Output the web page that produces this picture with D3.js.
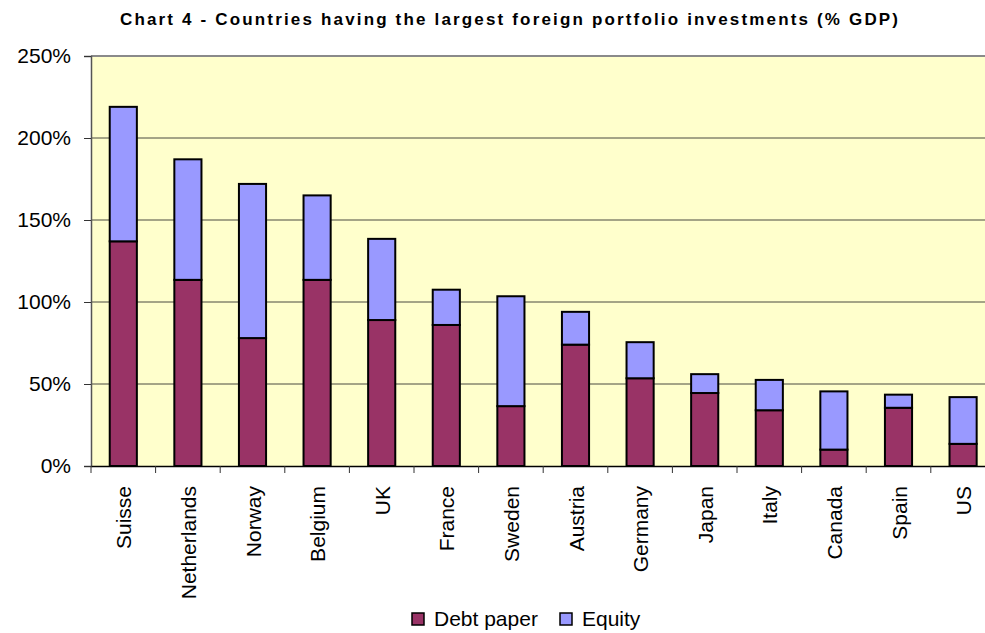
<!DOCTYPE html>
<html><head><meta charset="utf-8">
<script src="https://cdn.jsdelivr.net/npm/d3@7"></script>
<style>html,body{margin:0;padding:0;background:#fff;overflow:hidden}</style>
</head><body>
<svg id="chart" width="985" height="633"></svg>
<script>
const categories = ["Suisse","Netherlands","Norway","Belgium","UK","France","Sweden","Austria","Germany","Japan","Italy","Canada","Spain","US"];
const debtPaper = [1.37,1.135,0.78,1.135,0.89,0.86,0.365,0.74,0.535,0.445,0.34,0.10,0.355,0.135];
const equity    = [0.82,0.735,0.94,0.515,0.495,0.215,0.67,0.20,0.22,0.115,0.185,0.355,0.08,0.285];
const yTicks = [0,0.5,1,1.5,2,2.5];
const seriesNames = ["Debt paper","Equity"];
const colors = ["#993366","#9999FF"];
const title = "Chart 4 - Countries having the largest foreign portfolio investments (% GDP)";

const svg = d3.select("#chart");
const font = "Arial, 'Liberation Sans', sans-serif";
const L = 91, R = 995.4, T = 56, B = 466;

const x = d3.scaleBand().domain(categories).range([L, R]).paddingInner(0.58).paddingOuter(0.29);
const y = d3.scaleLinear().domain([0, 2.5]).range([B, T]);

// plot background
svg.append("rect").attr("x", L).attr("y", T).attr("width", R - L).attr("height", B - T).attr("fill", "#FFFFCC");

// gridlines
svg.append("g").selectAll("line").data(yTicks.filter(d => d > 0 && d < 2.5)).join("line")
  .attr("x1", L).attr("x2", R).attr("y1", d => y(d)).attr("y2", d => y(d))
  .attr("stroke", "#4a4a40").attr("stroke-width", 1);
svg.append("line").attr("x1", L).attr("x2", R).attr("y1", y(2.5)).attr("y2", y(2.5))
  .attr("stroke", "#8a8a8a").attr("stroke-width", 2);

// stacked bars
const stackData = categories.map((c, i) => ({cat: c, debt: debtPaper[i], equity: equity[i]}));
const stack = d3.stack().keys(["debt", "equity"])(stackData);
svg.append("g").selectAll("g").data(stack).join("g")
  .attr("fill", (d, i) => colors[i])
  .selectAll("rect").data(d => d).join("rect")
  .attr("x", d => x(d.data.cat))
  .attr("width", x.bandwidth())
  .attr("y", d => y(d[1]))
  .attr("height", d => y(d[0]) - y(d[1]))
  .attr("stroke", "#000").attr("stroke-width", 2);

// y axis
const yAxis = d3.axisLeft(y).tickValues(yTicks).tickFormat(d3.format(".0%")).tickSize(7).tickPadding(13);
const gy = svg.append("g").attr("transform", `translate(${L},0)`).call(yAxis);
gy.select(".domain").attr("stroke", "#555").attr("stroke-width", 1.5);
gy.selectAll(".tick line").attr("stroke", "#333");
gy.selectAll(".tick text").attr("font-family", font).attr("font-size", 21).attr("fill", "#000");

// x axis
const xAxis = d3.axisBottom(x).tickSize(0).tickFormat("");
const gx = svg.append("g").attr("transform", `translate(0,${B})`).call(xAxis);
gx.select(".domain").attr("stroke", "#000").attr("stroke-width", 1.5);
// boundary ticks
const bounds = d3.range(categories.length + 1).map(i => L + i * x.step());
svg.append("g").selectAll("line").data(bounds).join("line")
  .attr("x1", d => d).attr("x2", d => d).attr("y1", B).attr("y2", B + 7)
  .attr("stroke", "#333").attr("stroke-width", 1);
// category labels
svg.append("g").selectAll("text").data(categories).join("text")
  .attr("transform", d => `translate(${x(d) + x.bandwidth() / 2 + 8},486) rotate(-90)`)
  .attr("text-anchor", "end")
  .attr("font-family", font).attr("font-size", 21).attr("fill", "#000")
  .text(d => d);

// title
svg.append("text").attr("x", 120).attr("y", 25)
  .attr("font-family", font).attr("font-size", 17).attr("font-weight", "bold")
  .attr("textLength", 778).attr("lengthAdjust", "spacing")
  .text(title);

// legend
const legendX = [412, 560];
const lg = svg.append("g").selectAll("g").data(seriesNames).join("g")
  .attr("transform", (d, i) => `translate(${legendX[i]},613)`);
lg.append("rect").attr("width", 12).attr("height", 12).attr("fill", (d, i) => colors[i])
  .attr("stroke", "#000").attr("stroke-width", 1.5);
lg.append("text").attr("x", 22).attr("y", 13)
  .attr("font-family", font).attr("font-size", 21).attr("fill", "#000")
  .text(d => d);
</script>
</body></html>
